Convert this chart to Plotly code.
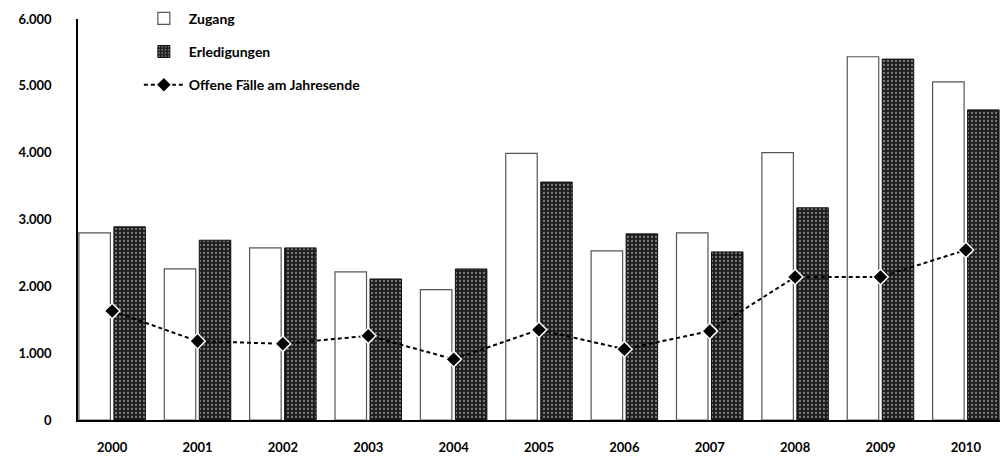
import plotly.graph_objects as go

years = ["2000", "2001", "2002", "2003", "2004", "2005", "2006", "2007", "2008", "2009", "2010"]
zugang = [2800, 2260, 2575, 2215, 1950, 3990, 2530, 2800, 4000, 5435, 5060]
erledigungen = [2890, 2690, 2575, 2110, 2260, 3560, 2785, 2515, 3175, 5400, 4640]
offene = [1630, 1180, 1140, 1260, 910, 1350, 1060, 1330, 2140, 2140, 2545]
y_ticks = [0, 1000, 2000, 3000, 4000, 5000, 6000]
y_tick_labels = ["0", "1.000", "2.000", "3.000", "4.000", "5.000", "6.000"]

font_family = "Lato, 'Open Sans', sans-serif"

fig = go.Figure()
fig.add_trace(go.Bar(
    x=years, y=zugang, name="<b>Zugang</b>", legendgroup="a",
    marker=dict(color="white", line=dict(color="#555555", width=1.2)),
))
fig.add_trace(go.Bar(
    x=years, y=erledigungen, name="<b>Erledigungen</b>", legendgroup="b",
    marker=dict(color="#1e1e1e", line=dict(color="#111111", width=1),
                pattern=dict(shape=".", fgcolor="#d8d8d8", bgcolor="#1e1e1e",
                             size=4, solidity=0.25)),
))
fig.add_trace(go.Scatter(
    x=years, y=offene, name="<b>Offene Fälle am Jahresende</b>", legendgroup="c",
    mode="lines+markers",
    line=dict(color="black", width=2, dash="4px,3px"),
    marker=dict(symbol="diamond", size=12, color="black", line=dict(color="white", width=1.5)),
))

fig.update_layout(
    width=1000, height=458,
    margin=dict(l=78, r=0, t=6, b=38, autoexpand=False),
    paper_bgcolor="white", plot_bgcolor="white",
    barmode="group", bargap=0.18, bargroupgap=0.1,
    font=dict(family=font_family, size=14, color="black"),
    legend=dict(x=0.066, y=1.008, xanchor="left", yanchor="top",
                bgcolor="rgba(0,0,0,0)", traceorder="grouped", tracegroupgap=12,
                font=dict(family=font_family, size=14, color="black"),
                itemwidth=40),
    showlegend=True,
)
fig.update_xaxes(
    type="category", range=[-0.40, 10.40],
    showgrid=False, showline=True, linecolor="black", linewidth=1.5,
    ticks="", tickfont=dict(family=font_family, size=13, color="black", weight="bold"),
    ticklabelstandoff=15,
)
fig.update_yaxes(
    domain=[0, (420 - 19) / (420 - 6)],
    range=[0, 6000], tickvals=y_ticks, ticktext=y_tick_labels,
    showgrid=False, zeroline=False, showline=True, linecolor="black", linewidth=1.5,
    ticks="", tickfont=dict(family=font_family, size=13, color="black", weight="bold"),
    ticklabelstandoff=22,
)

fig.write_html("out.html", config={"displayModeBar": False},
               post_script="document.body.style.margin='0';")
